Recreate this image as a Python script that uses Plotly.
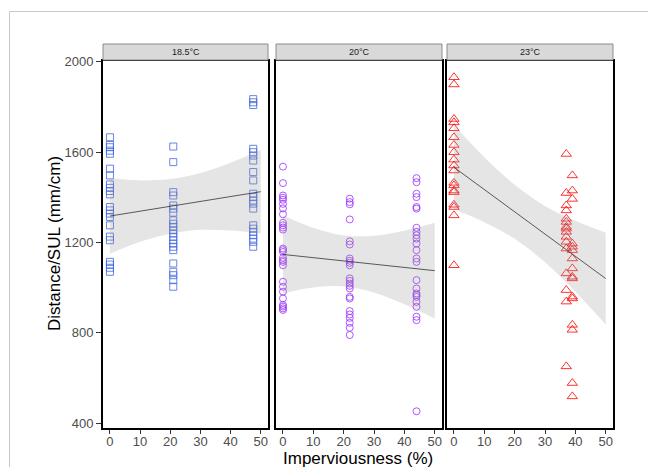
import plotly.graph_objects as go

W, H = 648, 467

# ---------------- data ----------------
temps = ["18.5°C", "20°C", "23°C"]

x_185 = [0]*22 + [21]*22 + [47.5]*21
y_185 = [1666, 1632, 1622, 1607, 1593, 1527, 1497, 1457, 1442, 1428, 1413,
         1357, 1342, 1328, 1313, 1276, 1226, 1210, 1114, 1102, 1088, 1070,
         1625, 1556, 1423, 1408, 1364, 1350, 1332, 1298, 1283, 1269, 1254,
         1240, 1225, 1210, 1195, 1181, 1166, 1107, 1070, 1055, 1033, 1004,
         1835, 1821, 1809, 1615, 1600, 1585, 1563, 1512, 1475, 1416, 1401,
         1386, 1372, 1350, 1276, 1261, 1247, 1232, 1217, 1203, 1181]

x_20 = [0]*27 + [22]*23 + [44]*24
y_20 = [1536, 1463, 1408, 1398, 1389, 1371, 1351, 1325, 1287, 1276, 1266,
        1257, 1173, 1166, 1158, 1132, 1121, 1114, 1099, 1026, 1004, 982,
        952, 923, 916, 908, 901,
        1394, 1379, 1369, 1302, 1205, 1191, 1129, 1119, 1110, 1099, 1041,
        1030, 1018, 1008, 996, 959, 952, 896, 881, 866, 844, 822, 790,
        1485, 1467, 1416, 1401, 1357, 1350, 1265, 1247, 1232, 1217, 1195,
        1166, 1129, 1114, 1033, 996, 974, 967, 959, 937, 915, 871, 856, 452]

x_23 = [0]*19 + [37]*16 + [39]*16
y_23 = [1932, 1900, 1747, 1732, 1706, 1666, 1632, 1600, 1567, 1541, 1519,
        1464, 1453, 1430, 1423, 1367, 1357, 1320, 1099,
        1592, 1419, 1364, 1342, 1305, 1291, 1269, 1261, 1247, 1225, 1203,
        1173, 1063, 989, 938, 651,
        1497, 1430, 1393, 1195, 1181, 1166, 1129, 1085, 1048, 1041, 960,
        952, 835, 813, 577, 518]

# fitted line and confidence band
fit_x = [0, 10, 20, 30, 40, 50]
fit_185 = [1317, 1339, 1360, 1382, 1403, 1425]
upr_185 = [1484, 1475, 1481, 1508, 1553, 1610]
lwr_185 = [1150, 1203, 1239, 1256, 1253, 1240]
fit_20 = [1147, 1133, 1118, 1104, 1089, 1075]
upr_20 = [1320, 1265, 1231, 1230, 1252, 1287]
lwr_20 = [974, 1001, 1005, 978, 926, 863]
fit_23 = [1533, 1434, 1336, 1237, 1139, 1040]
upr_23 = [1719, 1578, 1456, 1362, 1296, 1243]
lwr_23 = [1347, 1290, 1216, 1112, 982, 837]

y_ticks = [400, 800, 1200, 1600, 2000]
x_ticks = [0, 10, 20, 30, 40, 50]

# ---------------- styling ----------------
FONT = "Arial, Liberation Sans, sans-serif"
panels_px = [(103, 268), (276, 442), (447, 613)]
top_px, bot_px = 61, 428
strip_top_px = 44

def px_x(p):
    return p / W

def px_y(p):
    return 1 - p / H

series = [
    (x_185, y_185, "square-open", "#4466E0", 7, fit_185, upr_185, lwr_185),
    (x_20, y_20, "circle-open", "#9B30FF", 7, fit_20, upr_20, lwr_20),
    (x_23, y_23, "triangle-up-open", "#FF0000", 9, fit_23, upr_23, lwr_23),
]

fig = go.Figure()
for i, (xs, ys, sym, col, sz, fit, upr, lwr) in enumerate(series):
    xa = "x" if i == 0 else f"x{i+1}"
    ya = "y" if i == 0 else f"y{i+1}"
    fig.add_trace(go.Scatter(
        x=xs, y=ys, mode="markers", xaxis=xa, yaxis=ya,
        marker=dict(symbol=sym, size=sz, color=col, opacity=0.8,
                    line=dict(width=1, color=col)),
        showlegend=False, hoverinfo="x+y"))
    fig.add_trace(go.Scatter(
        x=fit_x, y=upr, mode="lines", xaxis=xa, yaxis=ya,
        line=dict(width=0, shape="spline"), showlegend=False, hoverinfo="skip"))
    fig.add_trace(go.Scatter(
        x=fit_x, y=lwr, mode="lines", xaxis=xa, yaxis=ya, fill="tonexty",
        fillcolor="rgba(153,153,153,0.25)",
        line=dict(width=0, shape="spline"), showlegend=False, hoverinfo="skip"))
    fig.add_trace(go.Scatter(
        x=fit_x, y=fit, mode="lines", xaxis=xa, yaxis=ya,
        line=dict(width=0.8, color="#333333"), showlegend=False, hoverinfo="skip"))

layout = dict(
    template="none",
    width=W, height=H,
    margin=dict(l=0, r=0, t=0, b=0, pad=0),
    paper_bgcolor="white", plot_bgcolor="white",
    font=dict(family=FONT, color="#4D4D4D"),
    showlegend=False,
)

for i, (l, r) in enumerate(panels_px):
    xkey = "xaxis" if i == 0 else f"xaxis{i+1}"
    ykey = "yaxis" if i == 0 else f"yaxis{i+1}"
    ya = "y" if i == 0 else f"y{i+1}"
    xa = "x" if i == 0 else f"x{i+1}"
    layout[xkey] = dict(
        domain=[px_x(l), px_x(r)], anchor=ya, range=[-2.3, 52.4],
        automargin=False, ticklabelstandoff=-4,
        tickvals=x_ticks, ticks="outside", ticklen=4, tickwidth=1,
        tickcolor="#333333", showgrid=False, zeroline=False,
        showline=True, linecolor="black", linewidth=2, mirror=True,
        tickfont=dict(size=13, color="#4D4D4D", family=FONT))
    layout[ykey] = dict(
        domain=[px_y(bot_px), px_y(top_px)], anchor=xa, range=[378, 2004],
        automargin=False,
        tickvals=y_ticks, ticks="outside" if i == 0 else "",
        showticklabels=(i == 0), ticklen=5, tickwidth=1, tickcolor="#333333",
        showgrid=False, zeroline=False,
        showline=True, linecolor="black", linewidth=2, mirror=True,
        tickfont=dict(size=13, color="#4D4D4D", family=FONT))

fig.update_layout(**layout)

shapes = []
annotations = []
for (l, r), t in zip(panels_px, temps):
    shapes.append(dict(type="rect", xref="paper", yref="paper",
                       x0=px_x(l), x1=px_x(r), y0=px_y(top_px - 1), y1=px_y(strip_top_px),
                       fillcolor="#D9D9D9", line=dict(color="#8C8C8C", width=1)))
    annotations.append(dict(x=px_x((l + r) / 2), y=px_y((strip_top_px + top_px - 1) / 2),
                            xref="paper", yref="paper", text=t, showarrow=False,
                            font=dict(size=9, color="#1A1A1A", family=FONT),
                            xanchor="center", yanchor="middle"))
# outer light frame
shapes.append(dict(type="rect", xref="paper", yref="paper",
                   x0=px_x(9.5), x1=1.05, y0=-0.05, y1=px_y(11.5),
                   line=dict(color="#C8C8C8", width=1), fillcolor="rgba(0,0,0,0)"))

annotations.append(dict(x=px_x(358), y=px_y(458), xref="paper", yref="paper",
                        text="Imperviousness (%)", showarrow=False,
                        font=dict(size=17, color="black", family=FONT),
                        xanchor="center", yanchor="middle"))
annotations.append(dict(x=px_x(55), y=px_y(244), xref="paper", yref="paper",
                        text="Distance/SUL (mm/cm)", showarrow=False, textangle=-90,
                        font=dict(size=17, color="black", family=FONT),
                        xanchor="center", yanchor="middle"))

fig.update_layout(shapes=shapes, annotations=annotations)
fig.write_html("out.html", config={"displayModeBar": False},
               post_script="document.body.style.margin='0';document.body.style.padding='0';")
